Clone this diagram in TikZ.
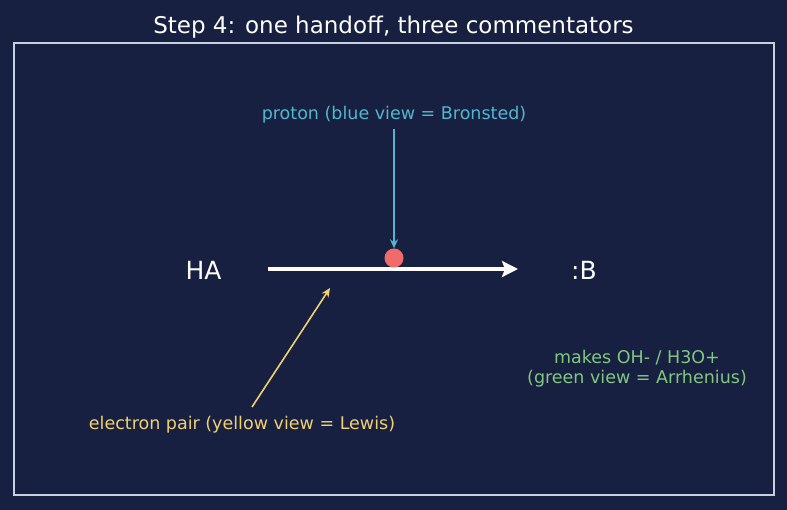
\documentclass[tikz,border=0pt]{standalone}
\usepackage{fontspec}
\setmainfont{DejaVu Sans}
\usetikzlibrary{arrows.meta}
\definecolor{bg}{HTML}{172040}
\definecolor{frame}{HTML}{C8D0E0}
\definecolor{blu}{HTML}{4FB8D0}
\definecolor{yel}{HTML}{F0D070}
\definecolor{grn}{HTML}{80C880}
\definecolor{dot}{HTML}{F26B6B}
\tikzset{
  lbl/.style={inner sep=0pt, font=\fontsize{17.5}{20}\selectfont},
  big/.style={inner sep=0pt, text=white, font=\fontsize{25}{28}\selectfont},
  pointer/.style={line width=1.6pt, -{Stealth[length=9pt,width=8pt]}},
}
\begin{document}
\begin{tikzpicture}[x=1pt,y=-1pt]
\fill[bg] (0,0) rectangle (787,510);
\useasboundingbox (0,0) rectangle (787,510);
\draw[frame, line width=1.4pt] (14,43) rectangle (774,495);
\node[inner sep=0pt, text=white, font=\fontsize{23}{26}\selectfont] (title) at (393.5,27) {Step 4: one handoff, three commentators};
\node[big] (ha) at (203.5,270) {HA};
\node[big] (b) at (584,270) {:B};
\coordinate (s) at (268,269);
\coordinate (e) at (518,269);
\draw[white, line width=3.2pt, -{Stealth[length=16pt,width=16pt,inset=3pt]}] (s) -- (e);
\node[circle, fill=dot, minimum size=19pt, inner sep=0pt] (p) at (394,258) {};
\node[lbl, text=blu] (pl) at (394,115) {proton (blue view = Bronsted)};
\coordinate (ps) at (394,129);
\draw[blu, pointer] (ps) -- (p.north);
\node[lbl, text=yel] (el) at (242,425) {electron pair (yellow view = Lewis)};
\coordinate (es) at (252,407);
\coordinate (ee) at (330,288);
\draw[yel, pointer] (es) -- (ee);
\node[lbl, text=grn, align=center] (ar) at (637,369) {makes OH- / H3O+\\(green view = Arrhenius)};
\end{tikzpicture}
\end{document}
